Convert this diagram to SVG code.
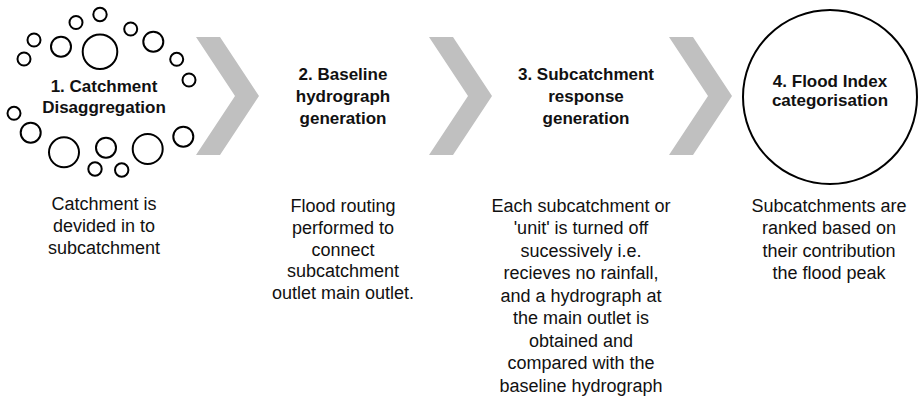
<svg xmlns="http://www.w3.org/2000/svg" width="918" height="396" viewBox="0 0 918 396">
<style>
.bg{fill:#ffffff}
.sc{fill:none;stroke:#000;stroke-width:2}
.big{fill:none;stroke:#000;stroke-width:2}
.chev{fill:#c0c0c0}
.t{font-family:"Liberation Sans",Arial,sans-serif;font-size:17px;font-weight:bold;fill:#111;text-anchor:middle}
.b{font-family:"Liberation Sans",Arial,sans-serif;font-size:18px;fill:#111;text-anchor:middle}
</style>
<defs>
<polygon id="chevron" points="0,0 24,0 63,59 24,118 0,118 39,59"/>
</defs>
<rect class="bg" x="0" y="0" width="918" height="396"/>
<g id="connectors">
<use href="#chevron" class="chev" x="196" y="37"/>
<use href="#chevron" class="chev" x="429" y="37"/>
<use href="#chevron" class="chev" x="669" y="37"/>
</g>
<g id="step1">
<circle class="sc" cx="100" cy="14.5" r="6.7"/>
<circle class="sc" cx="76" cy="22.5" r="6.5"/>
<circle class="sc" cx="130.7" cy="29" r="6.5"/>
<circle class="sc" cx="34" cy="40" r="6.5"/>
<circle class="sc" cx="61" cy="46.7" r="10"/>
<circle class="sc" cx="100" cy="51.7" r="17.3"/>
<circle class="sc" cx="153.3" cy="41.7" r="10"/>
<circle class="sc" cx="24" cy="59" r="6.5"/>
<circle class="sc" cx="176.7" cy="59.3" r="6.5"/>
<circle class="sc" cx="189" cy="80" r="6.5"/>
<circle class="sc" cx="14" cy="113.3" r="6.5"/>
<circle class="sc" cx="30.7" cy="132.7" r="10"/>
<circle class="sc" cx="64" cy="152.3" r="15"/>
<circle class="sc" cx="106" cy="147.7" r="10"/>
<circle class="sc" cx="147.7" cy="149" r="15"/>
<circle class="sc" cx="183.3" cy="136.7" r="10"/>
<circle class="sc" cx="95" cy="169" r="6.7"/>
<circle class="sc" cx="121.7" cy="170" r="6.7"/>
<text class="t" x="104" y="92">1. Catchment</text>
<text class="t" x="104" y="113">Disaggregation</text>
<text class="b" x="104" y="210">Catchment is</text>
<text class="b" x="104" y="232">devided in to</text>
<text class="b" x="104" y="254">subcatchment</text>
</g>
<g id="step2">
<text class="t" x="343" y="80">2. Baseline</text>
<text class="t" x="343" y="102">hydrograph</text>
<text class="t" x="343" y="124">generation</text>
<text class="b" x="343" y="212">Flood routing</text>
<text class="b" x="343" y="234">performed to</text>
<text class="b" x="343" y="256">connect</text>
<text class="b" x="343" y="277">subcatchment</text>
<text class="b" x="343" y="299">outlet main outlet.</text>
</g>
<g id="step3">
<text class="t" x="586" y="80">3. Subcatchment</text>
<text class="t" x="586" y="102">response</text>
<text class="t" x="586" y="124">generation</text>
<text class="b" x="581" y="212">Each subcatchment or</text>
<text class="b" x="581" y="234">'unit' is turned off</text>
<text class="b" x="581" y="257">sucessively i.e.</text>
<text class="b" x="581" y="279">recieves no rainfall,</text>
<text class="b" x="581" y="302">and a hydrograph at</text>
<text class="b" x="581" y="324">the main outlet is</text>
<text class="b" x="581" y="347">obtained and</text>
<text class="b" x="581" y="369">compared with the</text>
<text class="b" x="581" y="392">baseline hydrograph</text>
</g>
<g id="step4">
<circle class="big" cx="830" cy="97" r="87"/>
<text class="t" x="830" y="87">4. Flood Index</text>
<text class="t" x="830" y="106">categorisation</text>
<text class="b" x="829" y="212">Subcatchments are</text>
<text class="b" x="829" y="234">ranked based on</text>
<text class="b" x="829" y="257">their contribution</text>
<text class="b" x="829" y="279">the flood peak</text>
</g>
</svg>
